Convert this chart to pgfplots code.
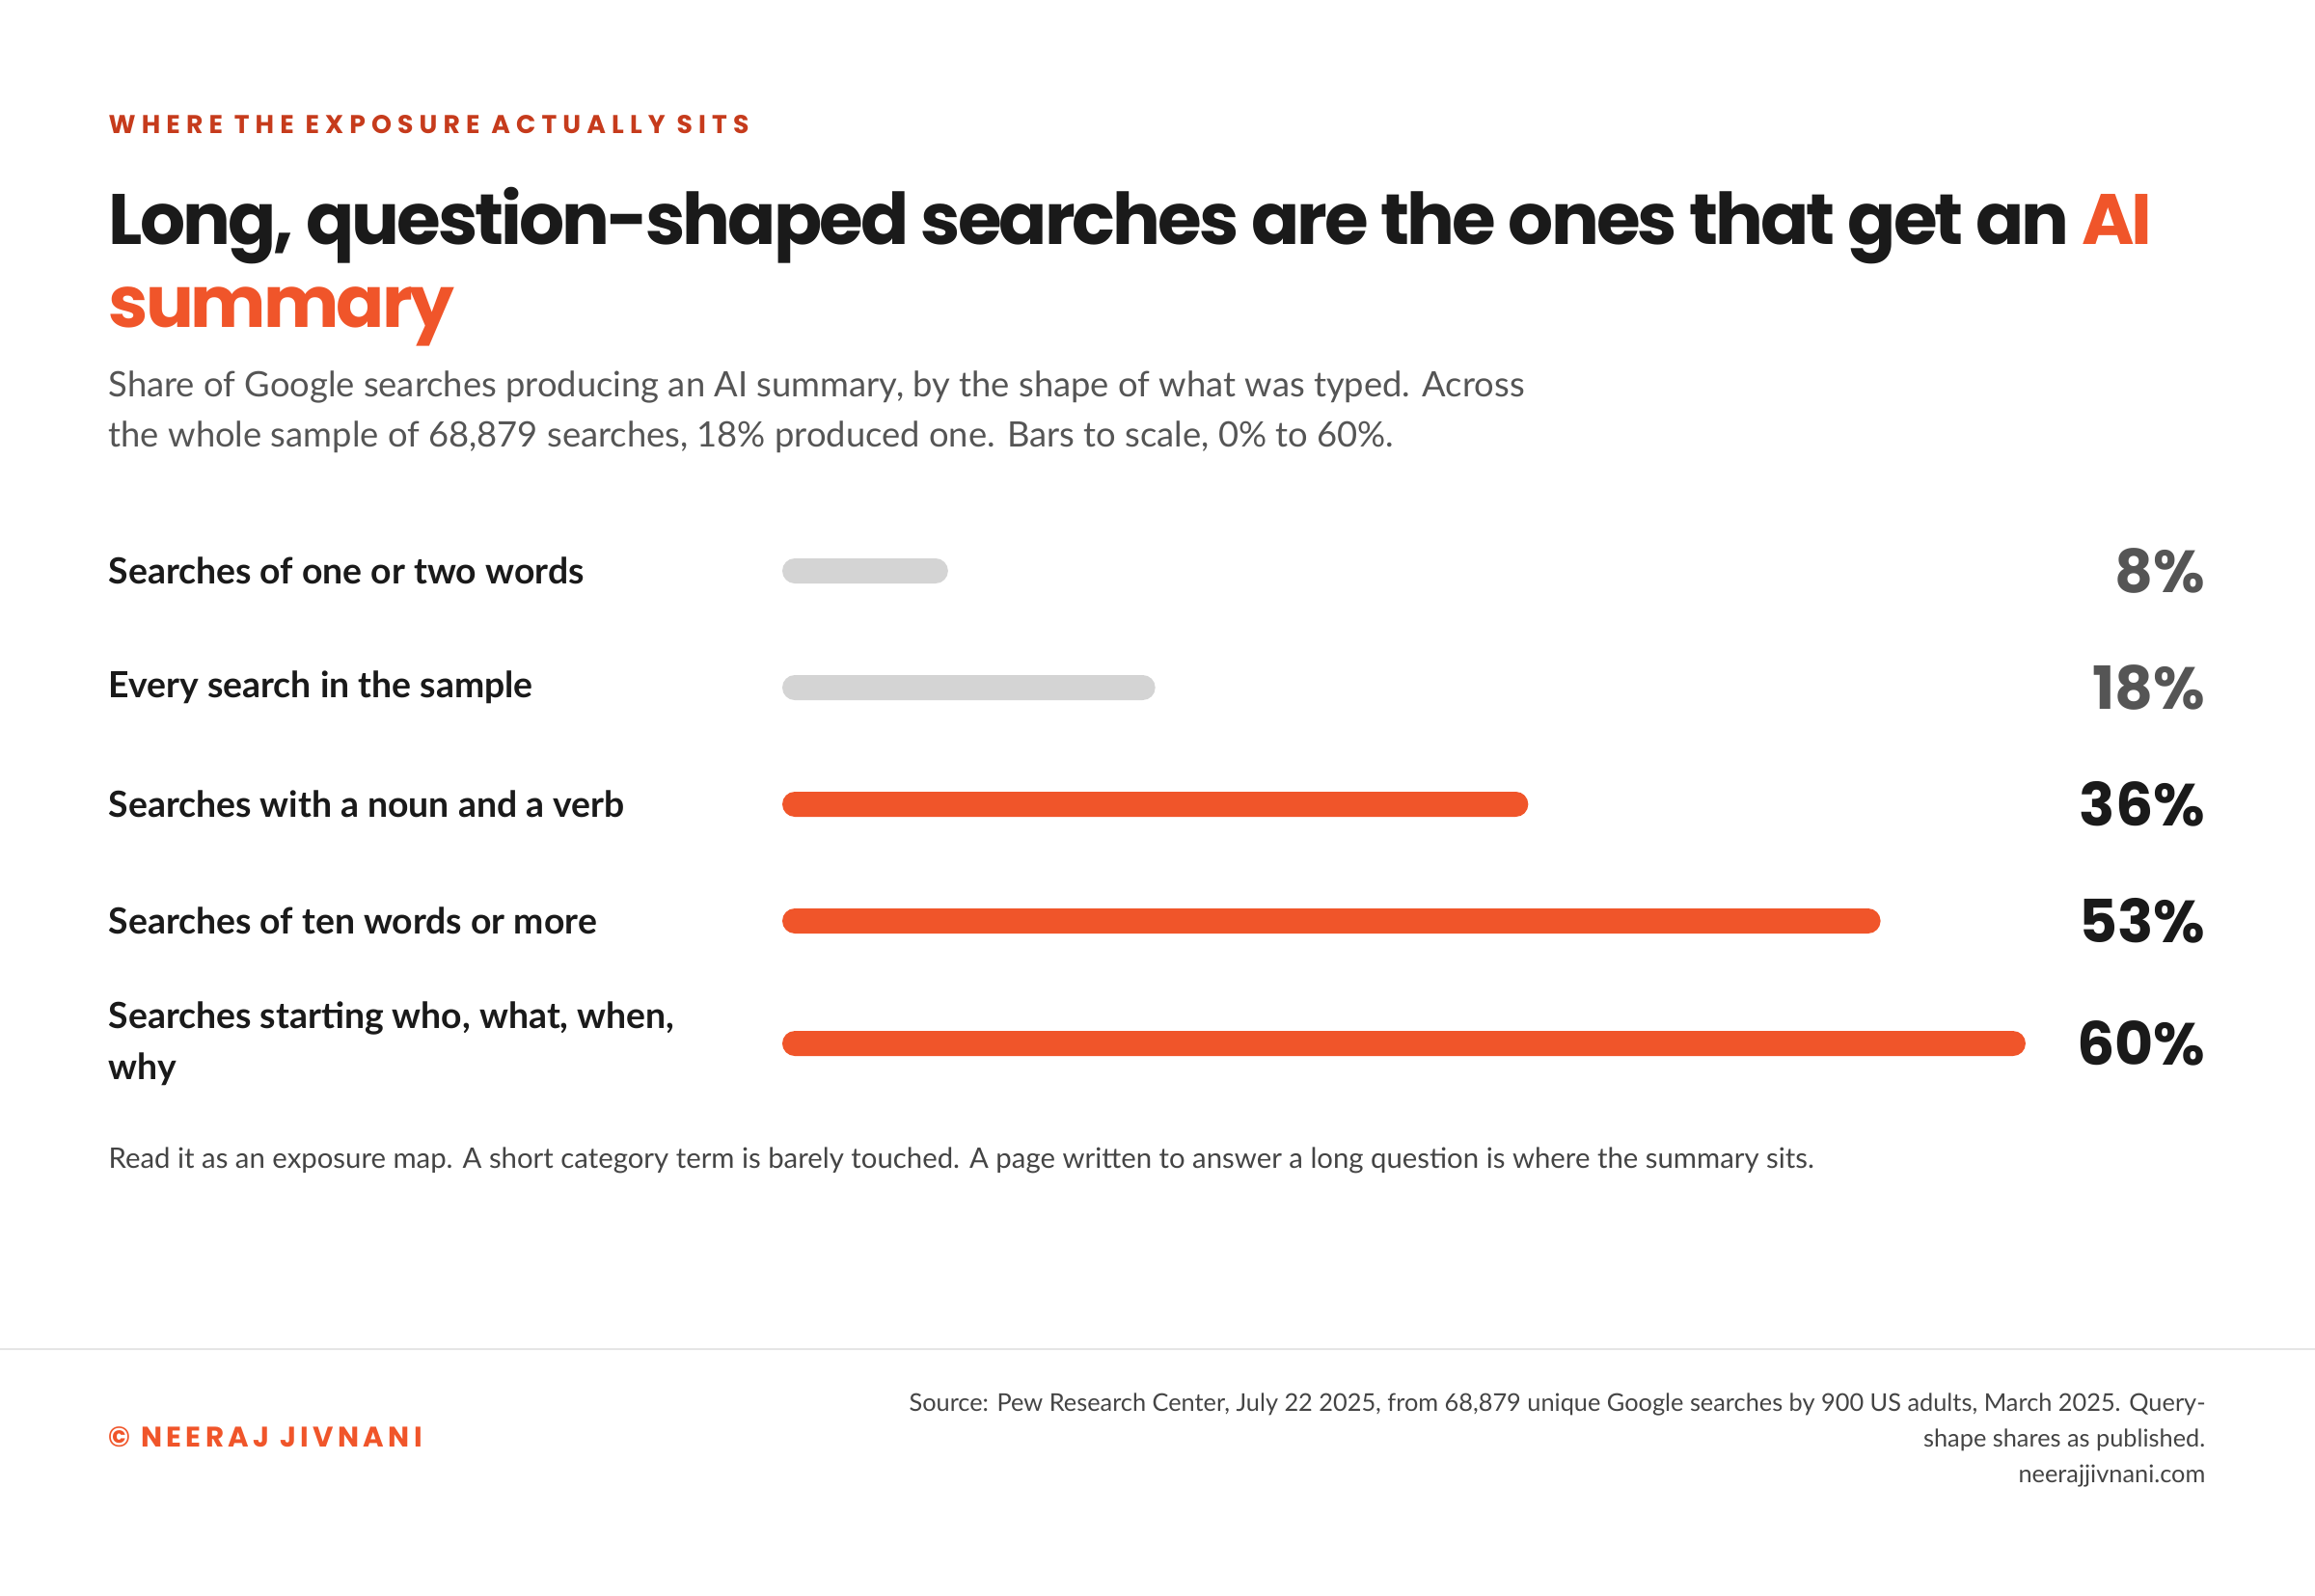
\documentclass[border=0pt]{standalone}
\usepackage{pgfplots}
\pgfplotsset{compat=1.18}
\usepackage{fontspec}
\setmainfont{Lato}
\newfontfamily\pop{Poppins}
\definecolor{brand}{HTML}{F0552A}
\definecolor{kick}{HTML}{C63B1C}
\definecolor{ink}{HTML}{1A1A1A}
\definecolor{mid}{HTML}{555555}
\definecolor{soft}{HTML}{444444}
\definecolor{barg}{HTML}{D4D4D4}
\definecolor{rulec}{HTML}{E5E5E5}
\begin{document}
\begin{tikzpicture}
\fill[white] (0,0) rectangle (720pt,496.2pt);
\path[use as bounding box] (0,0) rectangle (720pt,496.2pt);
% kicker
\node[anchor=base west, inner sep=0pt, text=kick] at (33.6pt,454.5pt)
  {\pop\bfseries\fontsize{8}{9}\selectfont\addfontfeature{LetterSpace=23}WHERE THE EXPOSURE ACTUALLY SITS};
% title
\node[anchor=base west, inner sep=0pt, text=ink] at (33.6pt,420pt)
  {\pop\bfseries\fontsize{22.2}{28}\selectfont\addfontfeature{LetterSpace=-4}Long, question-shaped searches are the ones that get an \textcolor{brand}{AI}};
\node[anchor=base west, inner sep=0pt, text=brand] at (33.6pt,394.2pt)
  {\pop\bfseries\fontsize{22.2}{28}\selectfont\addfontfeature{LetterSpace=-4}summary};
% subtitle
\node[anchor=base west, inner sep=0pt, text=mid] at (33.6pt,372.6pt)
  {\fontsize{10.9}{13}\selectfont Share of Google searches producing an AI summary, by the shape of what was typed. Across};
\node[anchor=base west, inner sep=0pt, text=mid] at (33.6pt,357pt)
  {\fontsize{10.9}{13}\selectfont the whole sample of 68,879 searches, 18\% produced one. Bars to scale, 0\% to 60\%.};

\begin{axis}[
  at={(243.3pt,340.38pt)}, anchor=north west,
  scale only axis, width=386.7pt, height=188.76pt,
  xmin=0, xmax=60, ymin=-0.6, ymax=4.6, y dir=reverse,
  axis line style={draw=none}, tick style={draw=none},
  xtick=\empty, ytick={0,1,2,3,4.05},
  yticklabels={Searches of one or two words, Every search in the sample, Searches with a noun and a verb, Searches of ten words or more, {Searches starting who, what, when,\\why}},
  yticklabel style={anchor=west, xshift=-209.7pt, inner sep=0pt, align=left, font=\fontsize{11.2}{16}\selectfont\bfseries, text=ink},
  clip=false,
]
\addplot[xbar, bar shift=0pt, bar width=7.8pt, fill=barg, draw=none, rounded corners=3.9pt]
  coordinates {(8,0) (18,1)};
\addplot[xbar, bar shift=0pt, bar width=7.8pt, fill=brand, draw=none, rounded corners=3.9pt]
  coordinates {(36,2) (53,3) (60,4.05)};
\addplot[draw=none, point meta=explicit symbolic, nodes near coords,
  nodes near coords style={anchor=east, inner sep=0pt, font=\pop\bfseries\fontsize{18.5}{20}\selectfont, text=mid}]
  coordinates {(68.7,0) [8\%] (68.7,1) [18\%]};
\addplot[draw=none, point meta=explicit symbolic, nodes near coords,
  nodes near coords style={anchor=east, inner sep=0pt, font=\pop\bfseries\fontsize{18.5}{20}\selectfont, text=ink}]
  coordinates {(68.7,2) [36\%] (68.7,3) [53\%] (68.7,4.05) [60\%]};
\end{axis}

% footnote
\node[anchor=base west, inner sep=0pt, text=soft] at (33.6pt,132.9pt)
  {\fontsize{8.8}{10}\selectfont Read it as an exposure map. A short category term is barely touched. A page written to answer a long question is where the summary sits.};
% divider
\draw[rulec, line width=0.6pt] (0,76.5pt) -- (720pt,76.5pt);
% footer
\node[anchor=base west, inner sep=0pt, text=brand] at (33.6pt,46.2pt)
  {\pop\bfseries\fontsize{8.8}{10}\selectfont\addfontfeature{LetterSpace=15}© NEERAJ JIVNANI};
\node[anchor=base east, inner sep=0pt, text=soft] at (686.1pt,57.3pt)
  {\fontsize{7.6}{9}\selectfont Source: Pew Research Center, July 22 2025, from 68,879 unique Google searches by 900 US adults, March 2025. Query-};
\node[anchor=base east, inner sep=0pt, text=soft] at (686.1pt,46.2pt)
  {\fontsize{7.6}{9}\selectfont shape shares as published.};
\node[anchor=base east, inner sep=0pt, text=soft] at (686.1pt,35.1pt)
  {\fontsize{7.6}{9}\selectfont neerajjivnani.com};
\end{tikzpicture}
\end{document}
